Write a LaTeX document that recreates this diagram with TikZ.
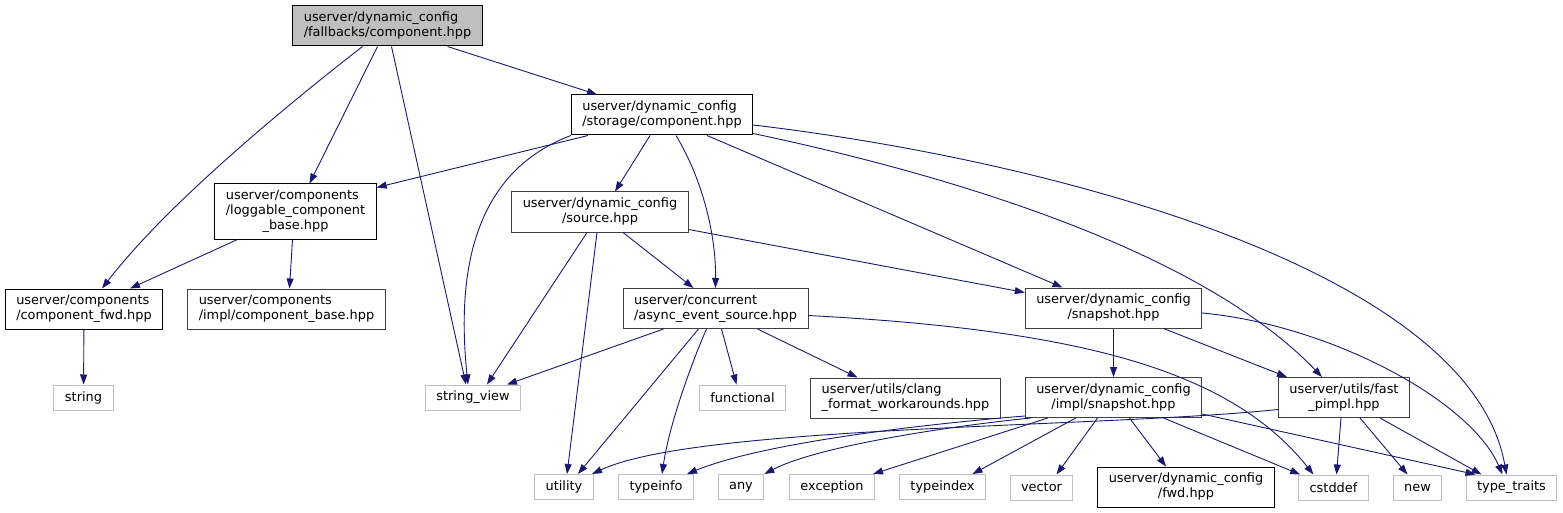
\documentclass[tikz,border=0pt]{standalone}
\usepackage{fontspec}
\setmainfont{DejaVu Sans}
\usetikzlibrary{arrows.meta}
\definecolor{dxBlue}{HTML}{191970}
\definecolor{dxGray}{HTML}{BFBFBF}
\definecolor{dxEdge}{HTML}{404040}
\newcommand{\incl}[2]{\begin{tabular}{@{}l@{}}#1\\\multicolumn{1}{@{}c@{}}{#2}\end{tabular}}

\begin{document}
\begin{tikzpicture}[x=1pt,y=-1pt,font=\fontsize{12.9}{15}\selectfont,
      hdr/.style={draw=dxEdge,fill=white,line width=1pt,
                  inner xsep=11pt,inner ysep=2pt,minimum height=40pt},
      sys/.style={draw=dxGray,fill=white,line width=1pt,
                  inner xsep=11pt,inner ysep=2pt,minimum height=25pt},
      dep/.style={-{Triangle[length=10pt,width=7pt]},dxBlue,line width=0.9pt}]
    \useasboundingbox (0,0) rectangle (1563,513);

    \node[hdr,draw=black,fill=dxGray] (F) at (387.5,26) {\incl{userver/dynamic\_config}{/fallbacks/component.hpp}};
    \node[hdr,draw=black] (S)   at (662,115)     {\incl{userver/dynamic\_config}{/storage/component.hpp}};
    \node[hdr,draw=black,minimum height=55pt] (L) at (295.5,211.5) {\incl{userver/components\\/loggable\_component}{\_base.hpp}};
    \node[hdr] (Src) at (600,212)     {\incl{userver/dynamic\_config}{/source.hpp}};
    \node[hdr] (A)   at (715.5,308.5) {\incl{userver/concurrent}{/async\_event\_source.hpp}};
    \node[hdr,draw=black] (CF)  at (84,309)   {\incl{userver/components}{/component\_fwd.hpp}};
    \node[hdr] (CB)  at (286.5,309)   {\incl{userver/components}{/impl/component\_base.hpp}};
    \node[hdr] (CL)  at (905.5,398)   {\incl{userver/utils/clang}{\_format\_workarounds.hpp}};
    \node[hdr] (Sn)  at (1113.5,308)  {\incl{userver/dynamic\_config}{/snapshot.hpp}};
    \node[hdr] (I)   at (1113.5,397.5) {\incl{userver/dynamic\_config}{/impl/snapshot.hpp}};
    \node[hdr] (P)   at (1344,397.5)  {\incl{userver/utils/fast}{\_pimpl.hpp}};
    \node[hdr,draw=black] (DF) at (1186,487) {\incl{userver/dynamic\_config}{/fwd.hpp}};

    \node[sys] (str)   at (83.5,397.5)  {string};
    \node[sys] (sv)    at (473,397.5)   {string\_view};
    \node[sys] (fun)   at (742.5,397.5) {functional};
    \node[sys] (util)  at (564,487)     {utility};
    \node[sys] (tinfo) at (656,487)     {typeinfo};
    \node[sys] (any)   at (741,487)     {any};
    \node[sys] (exc)   at (832,487)     {exception};
    \node[sys] (tidx)  at (942.5,487)   {typeindex};
    \node[sys] (vec)   at (1041.5,487.5) {vector};
    \node[sys] (cst)   at (1333.5,487.5) {cstddef};
    \node[sys] (new)   at (1417.5,487.5) {new};
    \node[sys] (tt)    at (1511.5,487.5) {type\_traits};

    \draw[dep] ([xshift=-25]F.south) .. controls (300,95) and (170,200) .. ([xshift=18]CF.north);
    \draw[dep] ([xshift=-10]F.south) -- ([xshift=14]L.north);
    \draw[dep] ([xshift=4]F.south) -- ([xshift=-7]sv.north);
    \draw[dep] ([xshift=60]F.south) -- ([xshift=-65]S.north);

    \draw[dep] ([xshift=-74]S.south) -- ([yshift=-4]L.north east);
    \draw[dep] (S.south west) .. controls (480,170) and (455,260) .. ([xshift=-5]sv.north);
    \draw[dep] ([xshift=-12]S.south) -- ([xshift=15]Src.north);
    \draw[dep] ([xshift=14]S.south) .. controls (700,175) and (716,230) .. (A.north);
    \draw[dep] ([xshift=45]S.south) -- ([xshift=-51]Sn.north);
    \draw[dep] ([yshift=2]S.south east) .. controls (950,175) and (1200,250) .. ([xshift=-22]P.north);
    \draw[dep] ([yshift=-10]S.east) .. controls (1050,160) and (1470,270) .. ([xshift=-5]tt.north);

    \draw[dep] ([xshift=-13]Src.south) -- ([xshift=14]sv.north);
    \draw[dep] ([xshift=-3]Src.south) -- ([xshift=3]util.north);
    \draw[dep] ([xshift=23]Src.south) -- ([xshift=-22]A.north);
    \draw[dep] ([yshift=3]Src.south east) -- ([yshift=-5]Sn.north west);

    \draw[dep] ([xshift=-52]A.south) -- ([xshift=34]sv.north);
    \draw[dep] ([xshift=-17]A.south) -- ([xshift=14]util.north);
    \draw[dep] ([xshift=-9]A.south) .. controls (695,355) and (670,420) .. ([xshift=6]tinfo.north);
    \draw[dep] ([xshift=6]A.south) -- ([xshift=-6]fun.north);
    \draw[dep] ([xshift=42]A.south) -- ([xshift=-48]CL.north);
    \draw[dep] ([yshift=-7]A.east) .. controls (1080,330) and (1230,370) .. ([xshift=-20]cst.north);

    \draw[dep] (Sn.south) -- (I.north);
    \draw[dep] ([xshift=50]Sn.south) -- ([xshift=-57]P.north);
    \draw[dep] ([yshift=-5]Sn.east) .. controls (1330,325) and (1470,400) .. ([xshift=-9]tt.north);

    \draw[dep] ([yshift=2]I.south west) .. controls (950,422) and (770,440) .. ([xshift=31]tinfo.north);
    \draw[dep] ([xshift=6]I.south west) .. controls (960,425) and (820,445) .. (any.north east);
    \draw[dep] ([xshift=23]I.south west) -- ([xshift=41]exc.north);
    \draw[dep] ([xshift=51]I.south west) -- ([xshift=30]tidx.north);
    \draw[dep] ([xshift=-16]I.south) -- ([xshift=15]vec.north);
    \draw[dep] ([xshift=16]I.south) -- ([xshift=-20]DF.north);
    \draw[dep] ([xshift=50]I.south) -- ([xshift=2]cst.north west);
    \draw[dep] ([yshift=4]I.south east) -- ([xshift=-36]tt.north);

    \draw[dep] ([yshift=-12]P.west) .. controls (1100,428) and (697,425) .. ([xshift=28]util.north);
    \draw[dep] ([xshift=-3]P.south) -- ([xshift=3]cst.north);
    \draw[dep] ([xshift=16]P.south) -- ([xshift=-10]new.north);
    \draw[dep] ([xshift=36]P.south) -- ([xshift=-30]tt.north);

    \draw[dep] ([xshift=-58]L.south) -- ([xshift=46]CF.north);
    \draw[dep] ([xshift=-3]L.south) -- ([xshift=3]CB.north);
    \draw[dep] (CF) -- (str);
  \end{tikzpicture}
\end{document}
